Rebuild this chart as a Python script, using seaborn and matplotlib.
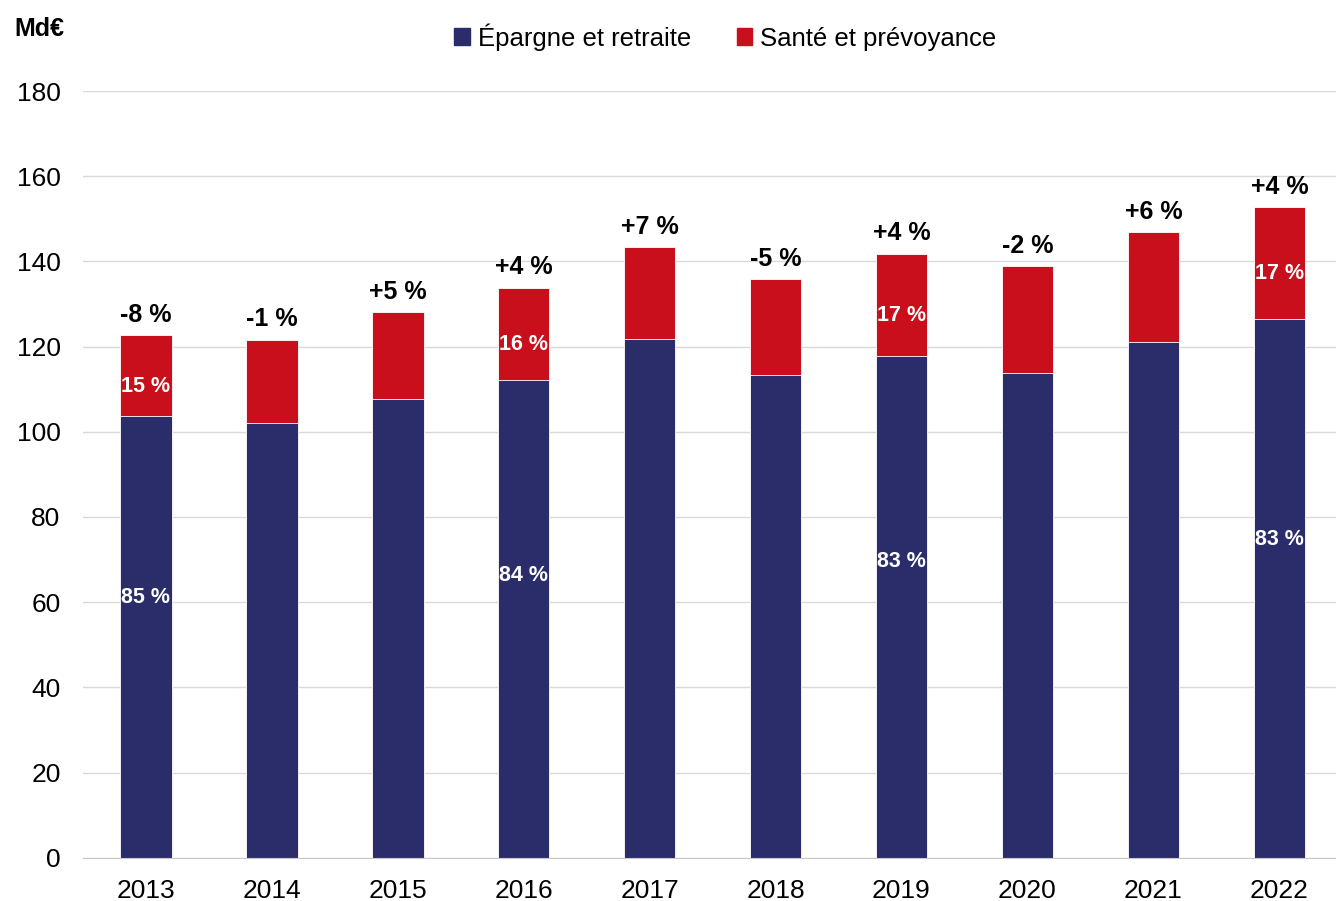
import seaborn as sns
import pandas as pd
import matplotlib.pyplot as plt
from matplotlib.patches import Patch

years = ["2013", "2014", "2015", "2016", "2017", "2018", "2019", "2020", "2021", "2022"]
epargne = [103.7, 102.1, 107.7, 112.2, 121.8, 113.4, 117.8, 113.8, 121.1, 126.5]
sante = [19.0, 19.5, 20.4, 21.6, 21.6, 22.5, 24.0, 25.1, 25.8, 26.3]
evolution = ["-8 %", "-1 %", "+5 %", "+4 %", "+7 %", "-5 %", "+4 %", "-2 %", "+6 %", "+4 %"]
part_epargne = {"2013": "85 %", "2016": "84 %", "2019": "83 %", "2022": "83 %"}
part_sante = {"2013": "15 %", "2016": "16 %", "2019": "17 %", "2022": "17 %"}

BLUE = "#2a2d69"
RED = "#c80f1b"

df = pd.DataFrame({"annee": years, "epargne": epargne, "sante": sante})
df["total"] = df["epargne"] + df["sante"]

sns.set_style("white")
plt.rcParams["font.family"] = ["Liberation Sans", "DejaVu Sans"]
plt.rcParams["text.color"] = "black"

fig, ax = plt.subplots(figsize=(13.36, 9.01), dpi=100)
fig.subplots_adjust(left=0.062, right=1.0, bottom=0.048, top=0.899)

sns.barplot(data=df, x="annee", y="total", color=RED, width=0.41, saturation=1,
            edgecolor="white", linewidth=0.6, ax=ax)
sns.barplot(data=df, x="annee", y="epargne", color=BLUE, width=0.41, saturation=1,
            edgecolor="white", linewidth=0.6, ax=ax)

ax.set_ylim(0, 180)
ax.set_xlim(-0.5, 9.45)
ax.set_yticks(range(0, 181, 20))
ax.yaxis.grid(True, color="#d9d9d9", linewidth=1)
ax.set_axisbelow(True)
ax.set_xlabel("")
ax.set_ylabel("")
for s in ["top", "right", "left"]:
    ax.spines[s].set_visible(False)
ax.spines["bottom"].set_color("#c8c8c8")
ax.tick_params(axis="both", length=0, labelsize=19, labelcolor="black")
ax.tick_params(axis="y", pad=16)
ax.tick_params(axis="x", pad=15)

for i, row in df.iterrows():
    ax.annotate(evolution[i], (i, row["total"]), xytext=(0, 6), textcoords="offset points",
                ha="center", va="bottom", fontsize=18, fontweight="bold", color="black")
    if row["annee"] in part_epargne:
        ax.text(i, row["epargne"] * 0.59, part_epargne[row["annee"]], ha="center", va="center",
                fontsize=15.5, fontweight="bold", color="white")
        ax.annotate(part_sante[row["annee"]], (i, row["epargne"] + row["sante"] / 2),
                    xytext=(0, -8), textcoords="offset points", ha="center", va="center",
                    fontsize=15.5, fontweight="bold", color="white")

handles = [Patch(color=BLUE, label="Épargne et retraite"), Patch(color=RED, label="Santé et prévoyance")]
fig.legend(handles=handles, loc="upper center", bbox_to_anchor=(0.543, 1.0), ncol=2,
           frameon=False, fontsize=18.5, handlelength=0.6, handleheight=0.6,
           handletextpad=0.3, columnspacing=1.8, labelcolor="black")

fig.text(0.011, 0.968, "Md€", fontsize=18, fontweight="bold", ha="left", va="center", color="black")

plt.savefig("out.png", dpi=100)
